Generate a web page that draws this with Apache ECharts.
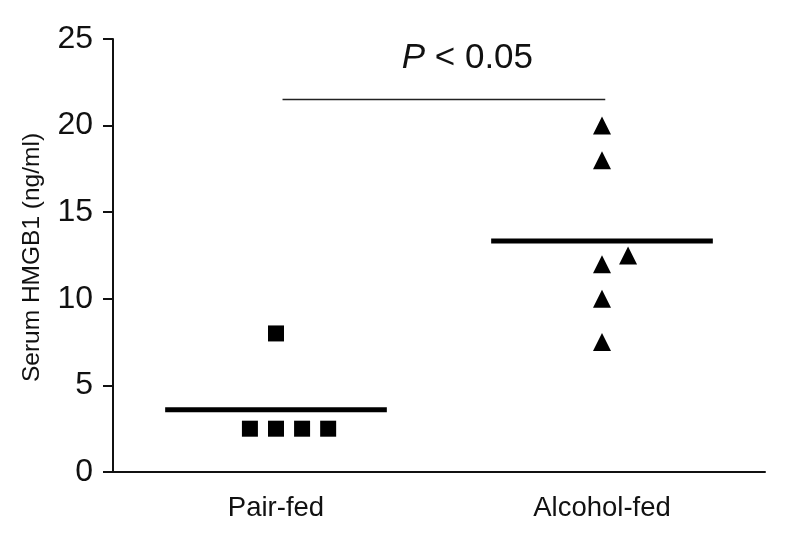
<!DOCTYPE html>
<html>
<head>
<meta charset="utf-8">
<script src="https://cdn.jsdelivr.net/npm/echarts@6/dist/echarts.min.js"></script>
<style>
  html, body { margin: 0; padding: 0; background: #fff; }
  #chart { width: 788px; height: 538px; }
</style>
</head>
<body>
<div id="chart"></div>
<script>
    // 分组
    const groups = ['Pair-fed', 'Alcohol-fed'];
    // 各组数值（ng/ml）
    const pairFed = [8, 2.5, 2.5, 2.5, 2.5];
    const alcoholFed = [20, 18, 12, 12.5, 10, 7.5];
    // 点的水平抖动（单位：组宽）
    const pairJitter = [0, -0.08, 0, 0.08, 0.16];
    const alcoholJitter = [0, 0, 0, 0.08, 0, 0];
    // y 轴刻度
    const yMin = 0, yMax = 25, yStep = 5;
    // 显著性标记
    const sigLevel = 21.5;
    const sigFrom = 0, sigTo = 1;
    const sigText = 'P < 0.05';

    const font = '"Liberation Sans", Arial, sans-serif';
    const ink = '#111';

    function mean(arr) {
        return arr.reduce((a, b) => a + b, 0) / arr.length;
    }
    // 组中心在 0.5, 1.5 ...
    function pts(vals, jit, gi) {
        return vals.map((v, i) => [gi + 0.5 + jit[i], v]);
    }
    function meanLine(vals, gi) {
        let m = mean(vals);
        return [[gi + 0.16, m], [gi + 0.84, m]];
    }

    let myChart = echarts.init(document.getElementById('chart'));
    let option = {
        animation: false,
        grid: { left: 113, right: 23, top: 39, bottom: 66 },
        xAxis: [
            {
                type: 'category',
                data: groups,
                boundaryGap: true,
                axisLine: { lineStyle: { color: ink, width: 2 } },
                axisTick: { alignWithLabel: true, length: 12, lineStyle: { color: ink, width: 2 } },
                axisLabel: { color: ink, fontSize: 27.5, fontFamily: font, margin: 22 },
                splitLine: { show: false }
            },
            {
                type: 'value', min: 0, max: groups.length, show: false
            }
        ],
        yAxis: {
            type: 'value',
            min: yMin, max: yMax, interval: yStep,
            name: 'Serum HMGB1 (ng/ml)',
            nameLocation: 'middle',
            nameGap: 68,
            nameTextStyle: { color: ink, fontSize: 24.5, fontFamily: font, padding: [0, 4, 0, 0] },
            axisLine: { show: true, lineStyle: { color: ink, width: 2 } },
            axisTick: { show: true, length: 10, lineStyle: { color: ink, width: 2 } },
            axisLabel: { color: ink, fontSize: 32, fontFamily: font, margin: 20 },
            splitLine: { show: false }
        },
        series: [
            {
                type: 'scatter', xAxisIndex: 1,
                symbol: 'rect', symbolSize: 16,
                itemStyle: { color: '#000', opacity: 1 },
                data: pts(pairFed, pairJitter, 0)
            },
            {
                type: 'scatter', xAxisIndex: 1,
                symbol: 'triangle', symbolSize: 18,
                itemStyle: { color: '#000', opacity: 1 },
                data: pts(alcoholFed, alcoholJitter, 1)
            },
            {
                type: 'line', xAxisIndex: 1, symbol: 'none',
                lineStyle: { color: '#000', width: 5 },
                data: meanLine(pairFed, 0)
            },
            {
                type: 'line', xAxisIndex: 1, symbol: 'none',
                lineStyle: { color: '#000', width: 5 },
                data: meanLine(alcoholFed, 1)
            },
            {
                // 显著性横线
                type: 'line', xAxisIndex: 1, symbol: 'none',
                lineStyle: { color: '#222', width: 1.5 },
                data: [[sigFrom + 0.52, sigLevel], [sigTo + 0.51, sigLevel]]
            },
            {
                // P 值文字
                type: 'scatter', xAxisIndex: 1,
                symbolSize: 0,
                itemStyle: { opacity: 1 },
                data: [[(sigFrom + sigTo) / 2 + 0.587, sigLevel + 2.4]],
                label: {
                    show: true, position: 'inside',
                    formatter: () => '{i|P}{n|\u00a0' + sigText.slice(2) + '}',
                    rich: {
                        i: { fontStyle: 'italic', fontSize: 35, fontFamily: font, color: ink, opacity: 1 },
                        n: { fontSize: 35, fontFamily: font, color: ink, opacity: 1 }
                    }
                }
            }
        ]
    };
    myChart.setOption(option);
</script>
</body>
</html>
